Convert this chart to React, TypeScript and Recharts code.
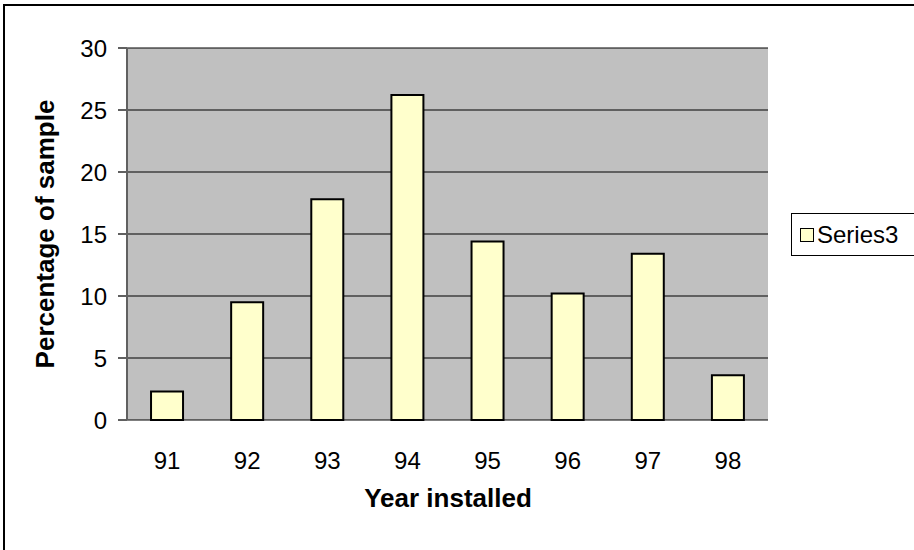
import React from 'react';
import { BarChart, Bar, XAxis, YAxis, CartesianGrid, Legend, Label } from 'recharts';

const years = ['91', '92', '93', '94', '95', '96', '97', '98'];
const series3 = [2.3, 9.5, 17.8, 26.2, 14.4, 10.2, 13.4, 3.6];
const yTicks = [0, 5, 10, 15, 20, 25, 30];
const boundaryTicks = [0, 1, 2, 3, 4, 5, 6, 7, 8];

const data = years.map((y, i) => ({ year: y, Series3: series3[i] }));

const FONT = '"Liberation Sans", Arial, sans-serif';

const LegendBox = () => (
  <div
    style={{
      border: '1px solid #000',
      background: '#fff',
      height: 43,
      boxSizing: 'border-box',
      display: 'flex',
      alignItems: 'center',
      fontFamily: FONT,
      fontSize: 24,
      color: '#000',
      paddingLeft: 8,
    }}
  >
    <span
      style={{
        display: 'inline-block',
        width: 12,
        height: 12,
        background: '#FFFFCC',
        border: '1px solid #000',
        marginRight: 3,
      }}
    />
    <span>Series3</span>
  </div>
);

export default function App() {
  return (
    <div style={{ position: 'absolute', left: 0, top: 0, width: 914, height: 550, overflow: 'hidden', background: '#fff' }}>
      <div
        style={{
          position: 'absolute',
          left: 3,
          top: 4,
          width: 1000,
          height: 1000,
          border: '2px solid #000',
        }}
      />
      <div style={{ position: 'absolute', left: 0, top: 0 }}>
        <BarChart
          width={914}
          height={550}
          data={data}
          margin={{ top: 48, right: 146, bottom: 0, left: 0 }}
          barCategoryGap="30%"
        >
          <CartesianGrid
            vertical={false}
            fill="#C0C0C0"
            fillOpacity={1}
            stroke="#000"
            strokeWidth={1}
            horizontalValues={yTicks}
            yAxisId="l"
          />
          <XAxis
            xAxisId="b"
            type="number"
            domain={[0, 8]}
            ticks={boundaryTicks}
            allowDataOverflow
            height={0}
            tick={false}
            tickSize={8}
            tickLine={{ stroke: '#606060', strokeWidth: 2 }}
            axisLine={{ stroke: '#606060', strokeWidth: 2 }}
          />
          <XAxis
            xAxisId="c"
            dataKey="year"
            height={130}
            tickLine={false}
            axisLine={false}
            tickSize={8}
            tickMargin={24}
            tick={{ fill: '#000', fontSize: 24, fontFamily: FONT }}
          >
            <Label
              content={() => (
                <text x={448} y={507} textAnchor="middle" fontFamily={FONT} fontSize={26} fontWeight="bold" fill="#000">
                  Year installed
                </text>
              )}
            />
          </XAxis>
          <YAxis
            yAxisId="l"
            domain={[0, 30]}
            ticks={yTicks}
            width={127}
            tickSize={9}
            tickMargin={11}
            interval={0}
            tick={{ fill: '#000', fontSize: 24, fontFamily: FONT }}
            tickLine={{ stroke: '#606060', strokeWidth: 2 }}
            axisLine={{ stroke: '#606060', strokeWidth: 2 }}
          >
            <Label
              content={() => (
                <text
                  x={54}
                  y={234}
                  transform="rotate(-90 54 234)"
                  textAnchor="middle"
                  fontFamily={FONT}
                  fontSize={26}
                  fontWeight="bold"
                  fill="#000"
                >
                  Percentage of sample
                </text>
              )}
            />
          </YAxis>
          <YAxis
            yAxisId="r"
            orientation="right"
            width={0}
            domain={[0, 30]}
            tick={false}
            tickLine={false}
            axisLine={{ stroke: '#808080', strokeWidth: 2 }}
          />
          <Legend
            layout="horizontal"
            verticalAlign="middle"
            align="center"
            wrapperStyle={{ left: 791, top: 213, width: 140, height: 43 }}
            content={() => <LegendBox />}
          />
          <Bar
            dataKey="Series3"
            xAxisId="c"
            yAxisId="l"
            fill="#FFFFCC"
            stroke="#000"
            strokeWidth={2}
            isAnimationActive={false}
          />
        </BarChart>
      </div>
    </div>
  );
}
